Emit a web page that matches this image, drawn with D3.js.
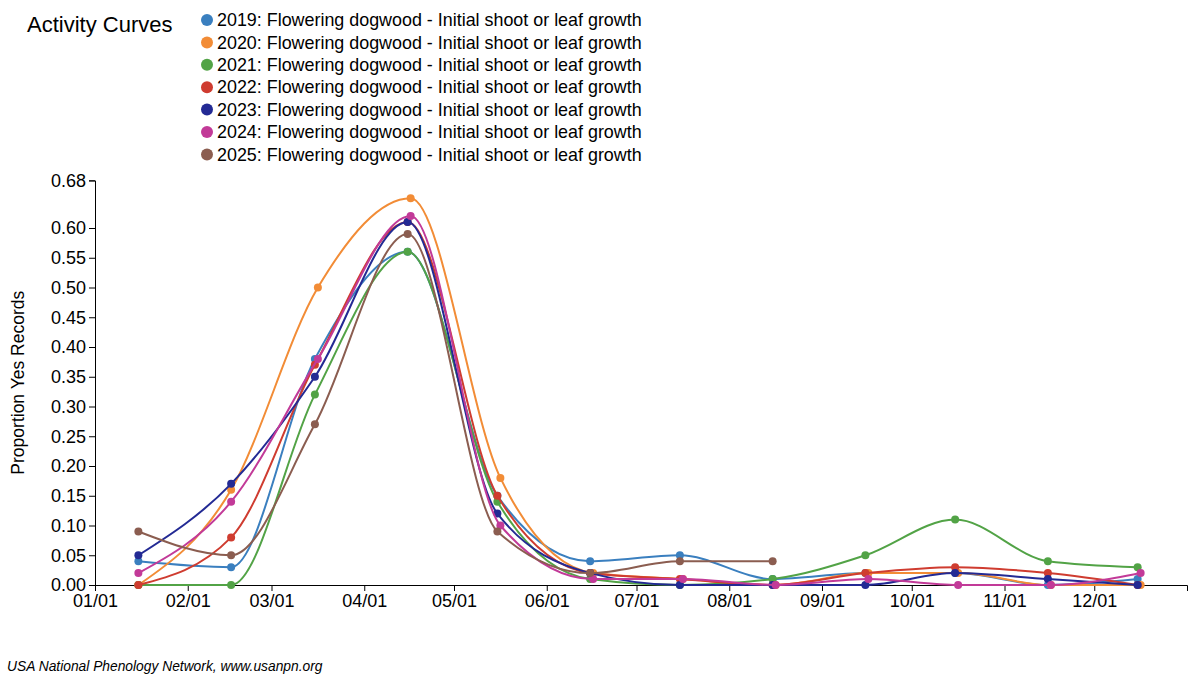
<!DOCTYPE html>
<html>
<head>
<meta charset="utf-8">
<script src="https://cdn.jsdelivr.net/npm/d3@7"></script>
<style>
  body { margin: 0; background: #fff; }
  svg { display: block; font-family: "Liberation Sans", Arial, Helvetica, sans-serif; }
  .axis text { font-size: 18px; fill: #000; font-family: "Liberation Sans", Arial, Helvetica, sans-serif; }
  .axis path, .axis line { stroke: #000; }
</style>
</head>
<body>
<svg id="chart" width="1200" height="678"></svg>
<script>
// ---- data ----
const years = [2019, 2020, 2021, 2022, 2023, 2024, 2025];
const seriesLabel = "Flowering dogwood - Initial shoot or leaf growth";
const colors = ["#3a7fbf", "#f28c36", "#52a346", "#cf3c30", "#232a94", "#c23a98", "#8b5d50"];
const months = [0, 1, 2, 3, 4, 5, 6, 7, 8, 9, 10, 11];

const v2019 = [0.04, 0.03, 0.38, 0.56, 0.15, 0.04, 0.05, 0.01, 0.02, 0.02, 0.00, 0.01];
const v2020 = [0.00, 0.16, 0.50, 0.65, 0.18, 0.02, 0.01, 0.00, 0.02, 0.02, 0.00, 0.00];
const v2021 = [0.00, 0.00, 0.32, 0.56, 0.14, 0.01, 0.00, 0.01, 0.05, 0.11, 0.04, 0.03];
const v2022 = [0.00, 0.08, 0.37, 0.61, 0.15, 0.02, 0.01, 0.00, 0.02, 0.03, 0.02, 0.00];
const v2023 = [0.05, 0.17, 0.35, 0.61, 0.12, 0.02, 0.00, 0.00, 0.00, 0.02, 0.01, 0.00];
const v2024 = [0.02, 0.14, 0.38, 0.62, 0.10, 0.01, 0.01, 0.00, 0.01, 0.00, 0.00, 0.02];
const v2025 = [0.09, 0.05, 0.27, 0.59, 0.09, 0.02, 0.04, 0.04];
const values = [v2019, v2020, v2021, v2022, v2023, v2024, v2025];

const yTicks = [0, 0.05, 0.10, 0.15, 0.20, 0.25, 0.30, 0.35, 0.40, 0.45, 0.50, 0.55, 0.60, 0.68];
const yMax = 0.68;
const title = "Activity Curves";
const yLabel = "Proportion Yes Records";
const footer = "USA National Phenology Network, www.usanpn.org";

// ---- layout ----
const svg = d3.select("#chart");
const refYear = 2021;
const x = d3.scaleTime()
  .domain([new Date(refYear, 0, 1), new Date(refYear + 1, 0, 1)])
  .range([95, 1187]);
const y = d3.scaleLinear().domain([0, yMax]).range([585, 180.4]);

// map a date in a given year onto the reference year by day offset
function toRef(year, m) {
  const d = new Date(year, m, 15, 12);
  const off = (d - new Date(year, 0, 1)) / 864e5;
  return new Date(new Date(refYear, 0, 1).getTime() + off * 864e5);
}

const series = years.map((yr, i) => ({
  year: yr,
  color: colors[i],
  points: values[i].map((v, j) => ({ date: toRef(yr, months[j]), value: v }))
}));

// axes
svg.append("g").attr("class", "axis")
  .attr("transform", `translate(0,${y(0)})`)
  .call(d3.axisBottom(x)
    .tickValues(d3.timeMonths(new Date(refYear, 0, 1), new Date(refYear + 1, 0, 1)))
    .tickFormat(d3.timeFormat("%m/%d")));

svg.append("g").attr("class", "axis")
  .attr("transform", `translate(${x.range()[0]},0)`)
  .call(d3.axisLeft(y).tickValues(yTicks).tickFormat(d3.format(".2f")));

// lines and points
const line = d3.line()
  .x(d => x(d.date))
  .y(d => y(d.value))
  .curve(d3.curveMonotoneX);

series.forEach(s => {
  const g = svg.append("g");
  g.append("path")
    .datum(s.points)
    .attr("d", line)
    .attr("fill", "none")
    .attr("stroke", s.color)
    .attr("stroke-width", 2);
  g.selectAll("circle").data(s.points).join("circle")
    .attr("cx", d => x(d.date))
    .attr("cy", d => y(d.value))
    .attr("r", 4)
    .attr("fill", s.color);
});

// y label
svg.append("text")
  .attr("transform", `translate(24,${(y(0) + y(yMax)) / 2}) rotate(-90)`)
  .attr("text-anchor", "middle")
  .attr("font-size", 17.5)
  .text(yLabel);

// title
svg.append("text")
  .attr("x", 27).attr("y", 32)
  .attr("font-size", 22)
  .text(title);

// legend
const leg = svg.append("g");
series.forEach((s, i) => {
  const cy = 20 + i * 22.4;
  leg.append("circle").attr("cx", 207).attr("cy", cy).attr("r", 6).attr("fill", s.color);
  leg.append("text").attr("x", 217).attr("y", cy).attr("dy", "0.35em")
    .attr("font-size", 17.9)
    .text(`${s.year}: ${seriesLabel}`);
});

// footer
svg.append("text")
  .attr("x", 7).attr("y", 671)
  .attr("font-size", 13.8)
  .attr("font-style", "italic")
  .text(footer);
</script>
</body>
</html>
